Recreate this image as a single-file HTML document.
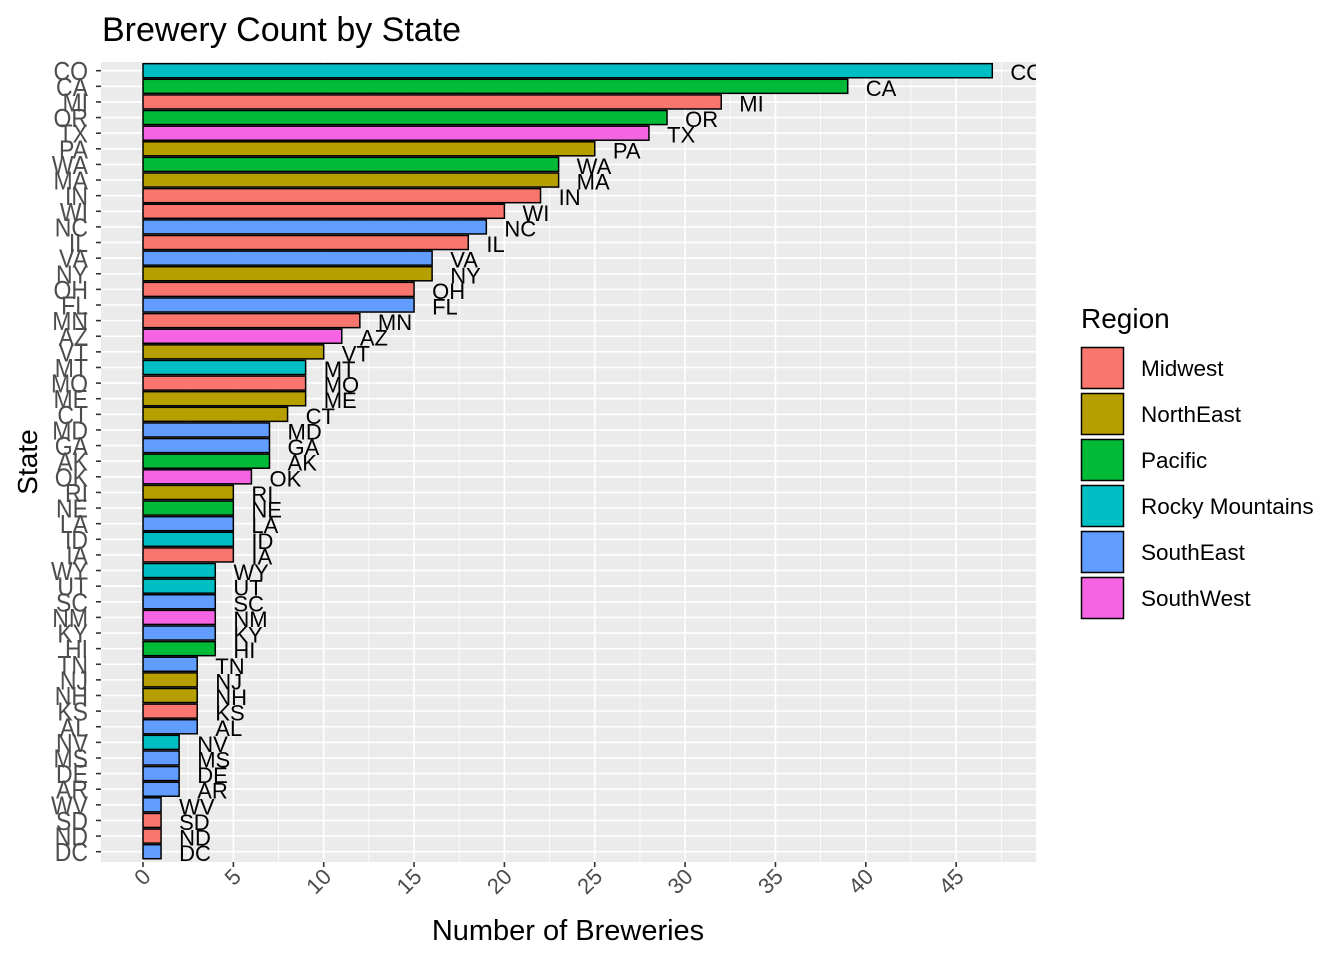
<!DOCTYPE html>
<html><head><meta charset="utf-8"><style>
body{margin:0;background:#fff}
svg{display:block;font-family:"Liberation Sans",Arial,sans-serif}
</style></head><body>
<svg id="chart" width="1344" height="960" viewBox="0 0 1344 960">
<defs><clipPath id="pc"><rect x="101" y="62" width="935" height="800"/></clipPath></defs>
<text x="102" y="41" font-size="34" fill="#000">Brewery Count by State</text>
<rect x="101" y="62" width="935" height="800" fill="#ebebeb"/>
<g id="grid"></g>
<g id="bars" clip-path="url(#pc)"></g>
<g id="yaxis"></g>
<g id="xaxis"></g>
<text x="568" y="940" font-size="29" text-anchor="middle" fill="#000">Number of Breweries</text>
<text transform="translate(37,462) rotate(-90)" font-size="28" text-anchor="middle" fill="#000">State</text>
<g id="legend">
<text x="1081" y="328" font-size="28" fill="#000">Region</text>
</g>
</svg>
<script>
const states=["CO","CA","MI","OR","TX","PA","WA","MA","IN","WI","NC","IL","VA","NY","OH","FL","MN","AZ","VT","MT","MO","ME","CT","MD","GA","AK","OK","RI","NE","LA","ID","IA","WY","UT","SC","NM","KY","HI","TN","NJ","NH","KS","AL","NV","MS","DE","AR","WV","SD","ND","DC"];
const counts=[47,39,32,29,28,25,23,23,22,20,19,18,16,16,15,15,12,11,10,9,9,9,8,7,7,7,6,5,5,5,5,5,4,4,4,4,4,4,3,3,3,3,3,2,2,2,2,1,1,1,1];
const regions=["RM","PA","MW","PA","SW","NE","PA","NE","MW","MW","SE","MW","SE","NE","MW","SE","MW","SW","NE","RM","MW","NE","NE","SE","SE","PA","SW","NE","PA","SE","RM","MW","RM","RM","SE","SW","SE","PA","SE","NE","NE","MW","SE","RM","SE","SE","SE","SE","MW","MW","SE"];
const regionKeys=["MW","NE","PA","RM","SE","SW"];
const regionNames=["Midwest","NorthEast","Pacific","Rocky Mountains","SouthEast","SouthWest"];
const regionColors=["#F8766D","#B79F00","#00BA38","#00BFC4","#619CFF","#F564E3"];
const xTicks=[0,5,10,15,20,25,30,35,40,45];

const NS="http://www.w3.org/2000/svg";
const x=v=>143+v*18.07;
const step=(851.7-70.7)/(states.length-1);
const y=i=>70.7+i*step;
function mk(tag,attrs,parent,txt){const e=document.createElementNS(NS,tag);for(const k in attrs)e.setAttribute(k,attrs[k]);if(txt!==undefined)e.textContent=txt;parent.appendChild(e);return e;}
const grid=document.getElementById('grid'),bars=document.getElementById('bars'),ya=document.getElementById('yaxis'),xa=document.getElementById('xaxis'),lg=document.getElementById('legend');
for(let v=-2.5;v<=47.5;v+=5){const X=x(v);if(X>101&&X<1036)mk('line',{x1:X,x2:X,y1:62,y2:862,stroke:'#fff','stroke-width':0.8},grid);}
xTicks.forEach(v=>{mk('line',{x1:x(v),x2:x(v),y1:62,y2:862,stroke:'#fff','stroke-width':1.6},grid);});
states.forEach((s,i)=>{mk('line',{x1:101,x2:1036,y1:y(i),y2:y(i),stroke:'#fff','stroke-width':1.6},grid);});
states.forEach((s,i)=>{
  const c=regionColors[regionKeys.indexOf(regions[i])];
  const r=mk('rect',{x:x(0),y:y(i)-step*0.45,width:x(counts[i])-x(0),height:step*0.9,fill:c,stroke:'#000','stroke-width':1.5},bars);
  
  
  const t=mk('text',{x:x(counts[i]+1),y:y(i)+9.5,'font-size':22,fill:'#000'},bars,s);
  
  
  mk('line',{x1:96,x2:101,y1:y(i),y2:y(i),stroke:'#333','stroke-width':1.6},ya);
  const yl=mk('text',{x:88,y:y(i)+8.5,'font-size':23,fill:'#4d4d4d','text-anchor':'end',transform:`translate(0,${y(i)}) scale(1,1.12) translate(0,${-y(i)})`},ya,s);
  
  
});
xTicks.forEach(v=>{
  mk('line',{x1:x(v),x2:x(v),y1:862,y2:867,stroke:'#333','stroke-width':1.6},xa);
  const t=mk('text',{transform:`translate(${x(v)+9},${878}) rotate(-45)`,'font-size':22,fill:'#4d4d4d','text-anchor':'end'},xa,String(v));
  
  
});
regionNames.forEach((n,i)=>{
  const yy=347+i*46;
  const r=mk('rect',{x:1081.5,y:yy+0.5,width:42,height:41,fill:regionColors[i],stroke:'#000','stroke-width':1.5},lg);
  
  
  const t=mk('text',{x:1141,y:yy+29,'font-size':22.5,fill:'#000'},lg,n);
  
  
});
</script>
</body></html>
